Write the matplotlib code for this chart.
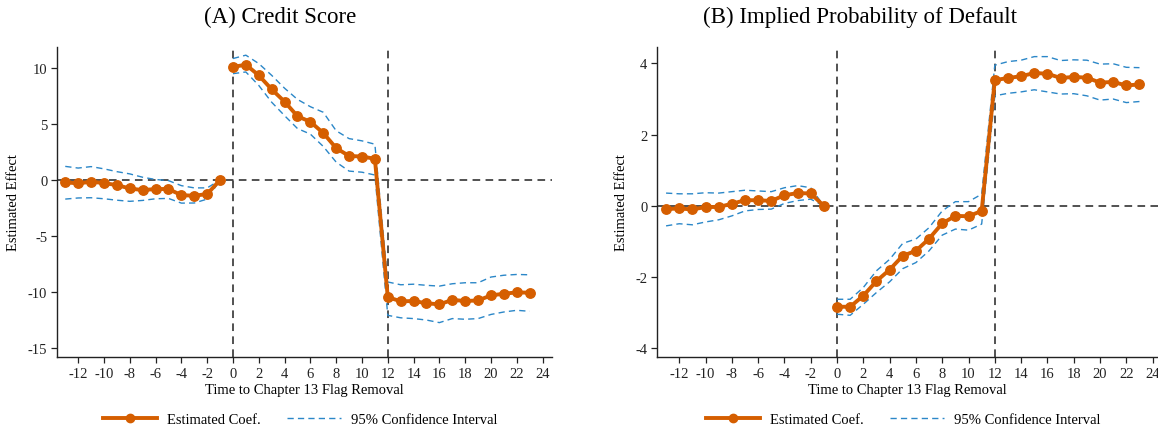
import matplotlib
matplotlib.use("Agg")
import matplotlib.pyplot as plt
import numpy as np
from matplotlib.lines import Line2D

plt.rcParams['font.family'] = ['Liberation Serif', 'DejaVu Serif']
plt.rcParams['axes.unicode_minus'] = False

# event time
pre = list(range(-13, 0))
post = list(range(0, 24))

# (A) credit score
a_coef_pre = [-0.2, -0.3, -0.15, -0.27, -0.45, -0.75, -0.9, -0.8, -0.8, -1.35, -1.4, -1.25, 0.0]
a_hi_pre = [1.22, 1.07, 1.2, 1.0, 0.75, 0.55, 0.25, 0.05, -0.05, -0.5, -0.7, -0.7, 0.0]
a_lo_pre = [-1.7, -1.6, -1.58, -1.67, -1.8, -1.9, -1.82, -1.67, -1.64, -2.06, -2.05, -1.7, 0.0]
a_coef_post = [10.1, 10.3, 9.35, 8.1, 7.0, 5.7, 5.2, 4.2, 2.85, 2.15, 2.1, 1.9,
               -10.45, -10.83, -10.8, -11.0, -11.1, -10.7, -10.8, -10.75, -10.3, -10.15, -10.03, -10.06]
a_hi_post = [10.85, 11.15, 10.4, 9.35, 8.2, 7.2, 6.55, 6.05, 4.4, 3.7, 3.5, 3.2,
             -9.1, -9.35, -9.3, -9.4, -9.47, -9.26, -9.17, -9.17, -8.66, -8.5, -8.43, -8.46]
a_lo_post = [9.5, 9.65, 8.45, 6.95, 5.75, 4.6, 4.1, 3.0, 1.6, 0.8, 0.7, 0.45,
             -12.08, -12.3, -12.37, -12.5, -12.73, -12.37, -12.43, -12.37, -12.0, -11.78, -11.63, -11.72]

# (B) implied probability of default
b_coef_pre = [-0.09, -0.07, -0.1, -0.03, -0.03, 0.06, 0.16, 0.16, 0.14, 0.3, 0.36, 0.35, 0.0]
b_hi_pre = [0.36, 0.34, 0.34, 0.37, 0.36, 0.4, 0.44, 0.42, 0.4, 0.51, 0.57, 0.51, 0.0]
b_lo_pre = [-0.56, -0.5, -0.53, -0.45, -0.39, -0.28, -0.14, -0.1, -0.09, 0.07, 0.15, 0.19, 0.0]
b_coef_post = [-2.83, -2.83, -2.52, -2.11, -1.79, -1.4, -1.26, -0.92, -0.49, -0.28, -0.29, -0.14,
               3.53, 3.59, 3.64, 3.73, 3.71, 3.59, 3.62, 3.6, 3.46, 3.48, 3.38, 3.41]
b_hi_post = [-2.62, -2.62, -2.29, -1.82, -1.5, -1.05, -0.93, -0.61, -0.14, 0.12, 0.12, 0.33,
             3.95, 4.05, 4.09, 4.19, 4.19, 4.08, 4.1, 4.09, 3.98, 3.99, 3.89, 3.88]
b_lo_post = [-3.04, -3.07, -2.76, -2.43, -2.13, -1.76, -1.59, -1.26, -0.82, -0.65, -0.68, -0.51,
             3.09, 3.16, 3.2, 3.26, 3.2, 3.14, 3.15, 3.09, 2.97, 3.0, 2.9, 2.93]

x_ticks = list(range(-12, 25, 2))
a_yticks = [-15, -10, -5, 0, 5, 10]
b_yticks = [-4, -2, 0, 2, 4]

orange = '#d55e00'
blue = '#2b87c8'
W, H = 1158, 431

fig = plt.figure(figsize=(W / 100, H / 100), dpi=100)
axA = fig.add_axes([57 / W, 73 / H, 495 / W, 310 / H])
axB = fig.add_axes([657 / W, 73 / H, 501 / W, 310 / H])


def draw(ax, coef_pre, hi_pre, lo_pre, coef_post, hi_post, lo_post, yticks, xlim, ylim):
    ax.axhline(0, color='#222222', lw=1.1, ls=(0, (5, 3.5)), zorder=1)
    for xv in [0, 12]:
        ax.axvline(xv, color='#222222', lw=1.1, ls=(0, (5, 3.5)), zorder=1)
    for xs, hi, lo in [(pre, hi_pre, lo_pre), (post, hi_post, lo_post)]:
        ax.plot(xs, hi, color=blue, lw=1.0, ls=(0, (4.5, 3)), zorder=2)
        ax.plot(xs, lo, color=blue, lw=1.0, ls=(0, (4.5, 3)), zorder=2)
    for xs, c in [(pre, coef_pre), (post, coef_post)]:
        ax.plot(xs, c, color=orange, lw=2.8, marker='o', ms=6.8, zorder=3)
    ax.set_xlim(*xlim)
    ax.set_ylim(*ylim)
    ax.set_xticks(x_ticks)
    ax.set_yticks(yticks)
    for s in ['top', 'right']:
        ax.spines[s].set_visible(False)
    for s in ['left', 'bottom']:
        ax.spines[s].set_color('#222222')
        ax.spines[s].set_linewidth(1.0)
    ax.tick_params(labelsize=10.5, length=4, width=0.9, color='#222222', labelcolor='#222222', pad=3)
    ax.set_xlabel('Time to Chapter 13 Flag Removal', fontsize=10.5)
    ax.set_ylabel('Estimated Effect', fontsize=10.5)


draw(axA, a_coef_pre, a_hi_pre, a_lo_pre, a_coef_post, a_hi_post, a_lo_post,
     a_yticks, (-13.64, 24.73), (-15.8, 11.88))
draw(axB, b_coef_pre, b_hi_pre, b_lo_pre, b_coef_post, b_hi_post, b_lo_post,
     b_yticks, (-13.69, 24.41), (-4.24, 4.46))

axA.yaxis.set_label_coords(-0.075, 0.5)
axB.yaxis.set_label_coords(-0.058, 0.5)
axA.xaxis.set_label_coords(0.5, -0.083)
axB.xaxis.set_label_coords(0.5, -0.083)

fig.text(280 / W, 1 - 17 / H, '(A) Credit Score', ha='center', va='center', fontsize=16.5)
fig.text(860 / W, 1 - 17 / H, '(B) Implied Probability of Default', ha='center', va='center', fontsize=16.5)

handles = [Line2D([], [], color=orange, lw=2.8, marker='o', ms=6),
           Line2D([], [], color=blue, lw=1.0, ls=(0, (4.5, 3)))]
labels = ['Estimated Coef.', '95% Confidence Interval']
for cx in [300, 903]:
    fig.legend(handles, labels, loc='center', bbox_to_anchor=(cx / W, 11 / H), ncol=2,
               frameon=False, fontsize=10.5, handlelength=3.7, handletextpad=0.7,
               columnspacing=1.8, borderpad=0, borderaxespad=0)

fig.savefig('out.png', dpi=100)
